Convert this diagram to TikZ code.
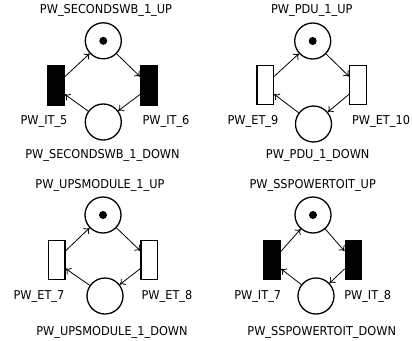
\documentclass[tikz,border=0pt]{standalone}
\usepackage{fontspec}
\setmainfont{DejaVu Sans}
\newfontfamily\lblfont[FakeStretch=0.93]{DejaVu Sans}
\usetikzlibrary{calc,arrows.meta}
\begin{document}
\begin{tikzpicture}[x=1pt,y=-1pt,
  place/.style={circle,draw,line width=1.3pt,minimum size=36pt,inner sep=0pt},
  trans/.style={rectangle,draw,line width=1.3pt,minimum width=16.5pt,minimum height=39pt,inner sep=0pt},
  imm/.style={trans,fill=black},
  expo/.style={trans,fill=white},
  tok/.style={circle,fill=black,minimum size=8pt,inner sep=0pt},
  arc/.style={-{To[length=5pt,width=8pt]},line width=0.8pt},
  lbl/.style={font=\lblfont\fontsize{12.2}{14}\selectfont,inner sep=0pt}]
\useasboundingbox (0,0) rectangle (412,340);

% Panel 1
\node[place] (T1) at (103.3,40.8) {};
\node[tok] (k1) at (T1) {};
\node[place] (B1) at (103.3,122) {};
\node[imm] (L1) at (56,85.5) {};
\node[imm] (R1) at (149,85.5) {};
\node[lbl] (t1u) at (106,10.5) {PW\_SECONDSWB\_1\_UP};
\node[lbl] (t1d) at (102.5,155.5) {PW\_SECONDSWB\_1\_DOWN};
\node[lbl] (t1l) at (44,121.5) {PW\_IT\_5};
\node[lbl] (t1r) at (166,121.5) {PW\_IT\_6};
\draw[arc] ($(L1.north east)!0.28!(L1.south east)$) -- (T1);
\draw[arc] (T1) -- ($(R1.north west)!0.28!(R1.south west)$);
\draw[arc] ($(R1.north west)!0.72!(R1.south west)$) -- (B1);
\draw[arc] (B1) -- ($(L1.north east)!0.72!(L1.south east)$);

% Panel 2
\node[place] (T2) at (312.7,41) {};
\node[tok] (k2) at (T2) {};
\node[place] (B2) at (313.5,124) {};
\node[expo] (L2) at (265.2,85.3) {};
\node[expo] (R2) at (358,85.3) {};
\node[lbl] (t2u) at (311.8,10.5) {PW\_PDU\_1\_UP};
\node[lbl] (t2d) at (317.7,155.5) {PW\_PDU\_1\_DOWN};
\node[lbl] (t2l) at (253,121.5) {PW\_ET\_9};
\node[lbl] (t2r) at (381,121.5) {PW\_ET\_10};
\draw[arc] ($(L2.north east)!0.28!(L2.south east)$) -- (T2);
\draw[arc] (T2) -- ($(R2.north west)!0.28!(R2.south west)$);
\draw[arc] ($(R2.north west)!0.72!(R2.south west)$) -- (B2);
\draw[arc] (B2) -- ($(L2.north east)!0.72!(L2.south east)$);

% Panel 3
\node[place] (T3) at (103,215) {};
\node[tok] (k3) at (T3) {};
\node[place] (B3) at (105,296) {};
\node[expo] (L3) at (56.7,259.7) {};
\node[expo] (R3) at (149.3,259.7) {};
\node[lbl] (t3u) at (100,185.5) {PW\_UPSMODULE\_1\_UP};
\node[lbl] (t3d) at (112,332.5) {PW\_UPSMODULE\_1\_DOWN};
\node[lbl] (t3l) at (39,296.5) {PW\_ET\_7};
\node[lbl] (t3r) at (167,296.5) {PW\_ET\_8};
\draw[arc] ($(L3.north east)!0.28!(L3.south east)$) -- (T3);
\draw[arc] (T3) -- ($(R3.north west)!0.28!(R3.south west)$);
\draw[arc] ($(R3.north west)!0.72!(R3.south west)$) -- (B3);
\draw[arc] (B3) -- ($(L3.north east)!0.72!(L3.south east)$);

% Panel 4
\node[place] (T4) at (313,215) {};
\node[tok] (k4) at (T4) {};
\node[place] (B4) at (316,296) {};
\node[imm] (L4) at (272.2,260) {};
\node[imm] (R4) at (353.5,260) {};
\node[lbl] (t4u) at (312.7,185.5) {PW\_SSPOWERTOIT\_UP};
\node[lbl] (t4d) at (321.7,332.5) {PW\_SSPOWERTOIT\_DOWN};
\node[lbl] (t4l) at (257.7,296.5) {PW\_IT\_7};
\node[lbl] (t4r) at (367.7,296.5) {PW\_IT\_8};
\draw[arc] ($(L4.north east)!0.28!(L4.south east)$) -- (T4);
\draw[arc] (T4) -- ($(R4.north west)!0.28!(R4.south west)$);
\draw[arc] ($(R4.north west)!0.72!(R4.south west)$) -- (B4);
\draw[arc] (B4) -- ($(L4.north east)!0.72!(L4.south east)$);
\end{tikzpicture}
\end{document}
